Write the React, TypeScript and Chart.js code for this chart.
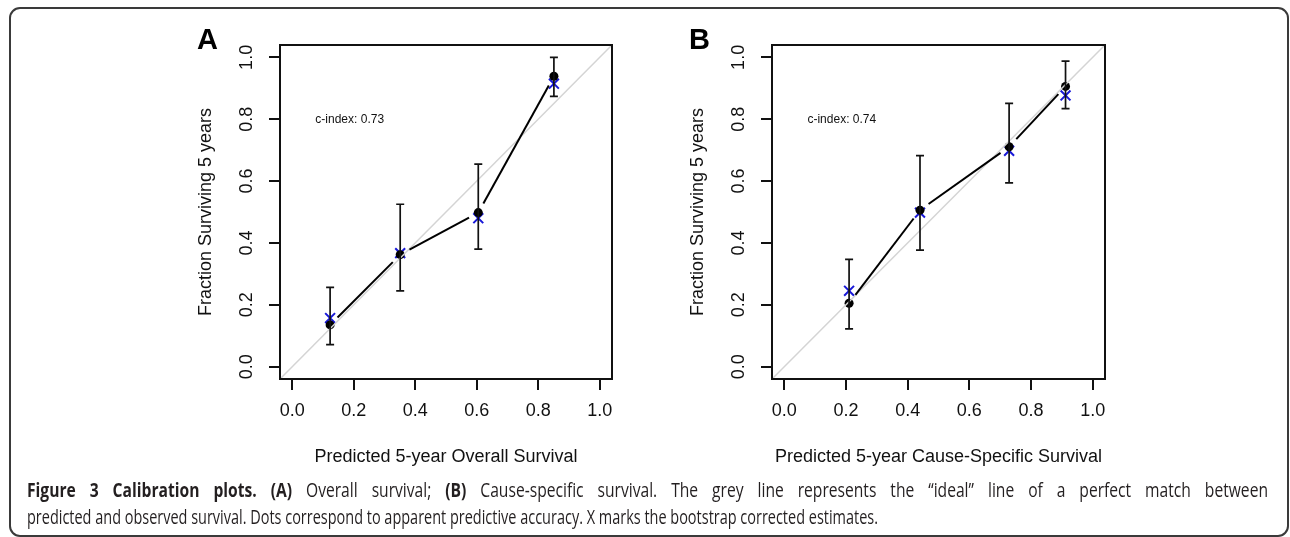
import React, { useEffect, useLayoutEffect, useRef } from "react";
import { Chart, registerables } from "chart.js";

Chart.register(...registerables);

// ---------- data ----------
const X_TICKS = [0, 0.2, 0.4, 0.6, 0.8, 1.0];
const Y_TICKS = [0, 0.2, 0.4, 0.6, 0.8, 1.0];
const AXIS_RANGE = [-0.04, 1.04];

// Panel A: overall survival
const A_PRED = [0.123, 0.351, 0.605, 0.851];
const A_OBS = [0.135, 0.362, 0.498, 0.939];
const A_CORR = [0.157, 0.367, 0.48, 0.915];
const A_LO = [0.071, 0.245, 0.38, 0.874];
const A_HI = [0.256, 0.525, 0.655, 1.0];

// Panel B: cause-specific survival
const B_PRED = [0.21, 0.44, 0.729, 0.912];
const B_OBS = [0.205, 0.506, 0.711, 0.906];
const B_CORR = [0.245, 0.498, 0.698, 0.877];
const B_LO = [0.122, 0.377, 0.594, 0.834];
const B_HI = [0.347, 0.682, 0.851, 0.988];

const Y_TITLE = "Fraction Surviving 5 years";
const A_X_TITLE = "Predicted 5-year Overall Survival";
const B_X_TITLE = "Predicted 5-year Cause-Specific Survival";
const A_CINDEX = "c-index: 0.73";
const B_CINDEX = "c-index: 0.74";
const CINDEX_POS = [0.075, 0.8];

const FONT = "'Liberation Sans', Arial, Helvetica, sans-serif";
const INK = "#111111";
const GAP = 10.5;
const X_AXIS_H = 101;

interface PanelCfg {
  letter: string;
  xTitle: string;
  cIndex: string;
  pred: number[];
  obs: number[];
  corr: number[];
  lo: number[];
  hi: number[];
  padRight: number;
}

function buildChart(canvas: HTMLCanvasElement, cfg: PanelCfg) {
  const plugin = {
    id: "panel" + cfg.letter,
    afterDatasetDraw(chart: any, args: any) {
      if (args.index !== 0) return;
      const { ctx } = chart;
      const x = chart.scales.x;
      const y = chart.scales.y;
      ctx.save();
      // error bars
      ctx.strokeStyle = INK;
      ctx.lineWidth = 1.7;
      cfg.pred.forEach((p, i) => {
        const px = x.getPixelForValue(p);
        const lo = y.getPixelForValue(cfg.lo[i]);
        const hi = y.getPixelForValue(cfg.hi[i]);
        ctx.beginPath();
        ctx.moveTo(px, lo);
        ctx.lineTo(px, hi);
        ctx.moveTo(px - 4, lo);
        ctx.lineTo(px + 4, lo);
        ctx.moveTo(px - 4, hi);
        ctx.lineTo(px + 4, hi);
        ctx.stroke();
      });
      // connecting line (type "b": gaps around points)
      ctx.strokeStyle = "#000";
      ctx.lineWidth = 2;
      for (let i = 0; i < cfg.pred.length - 1; i++) {
        const x1 = x.getPixelForValue(cfg.pred[i]);
        const y1 = y.getPixelForValue(cfg.obs[i]);
        const x2 = x.getPixelForValue(cfg.pred[i + 1]);
        const y2 = y.getPixelForValue(cfg.obs[i + 1]);
        const dx = x2 - x1;
        const dy = y2 - y1;
        const d = Math.hypot(dx, dy);
        if (d <= 2 * GAP) continue;
        const ux = dx / d;
        const uy = dy / d;
        ctx.beginPath();
        ctx.moveTo(x1 + ux * GAP, y1 + uy * GAP);
        ctx.lineTo(x2 - ux * GAP, y2 - uy * GAP);
        ctx.stroke();
      }
      ctx.restore();
    },
    afterDatasetsDraw(chart: any) {
      const { ctx, chartArea } = chart;
      ctx.save();
      ctx.strokeStyle = INK;
      ctx.lineWidth = 2;
      ctx.strokeRect(
        chartArea.left,
        chartArea.top,
        chartArea.right - chartArea.left,
        chartArea.bottom - chartArea.top
      );
      const x = chart.scales.x;
      const y = chart.scales.y;
      ctx.fillStyle = INK;
      ctx.font = `12px ${FONT}`;
      ctx.textAlign = "left";
      ctx.textBaseline = "middle";
      ctx.fillText(
        cfg.cIndex,
        x.getPixelForValue(CINDEX_POS[0]),
        y.getPixelForValue(CINDEX_POS[1])
      );
      ctx.restore();
    },
    afterDraw(chart: any) {
      const { ctx, chartArea } = chart;
      const y = chart.scales.y;
      ctx.save();
      ctx.fillStyle = INK;
      ctx.font = `18px ${FONT}`;
      ctx.textAlign = "center";
      ctx.textBaseline = "middle";
      Y_TICKS.forEach((v) => {
        const py = y.getPixelForValue(v);
        ctx.save();
        ctx.translate(chartArea.left - 32.5, py);
        ctx.rotate(-Math.PI / 2);
        ctx.fillText(v.toFixed(1), 0, 0);
        ctx.restore();
      });
      // y title
      ctx.save();
      ctx.translate(chartArea.left - 74, (chartArea.top + chartArea.bottom) / 2);
      ctx.rotate(-Math.PI / 2);
      ctx.fillText(Y_TITLE, 0, 0);
      ctx.restore();
      // x title
      ctx.fillText(cfg.xTitle, (chartArea.left + chartArea.right) / 2, 457);
      // panel letter
      ctx.font = `bold 29px ${FONT}`;
      ctx.textAlign = "left";
      ctx.textBaseline = "alphabetic";
      ctx.fillStyle = "#000";
      ctx.fillText(cfg.letter, 17, 48.5);
      ctx.restore();
    },
  };

  const gridCommon = {
    display: true,
    drawOnChartArea: false,
    drawTicks: true,
    tickLength: 11,
    color: INK,
    lineWidth: 2,
  };

  return new Chart(canvas, {
    type: "scatter",
    data: {
      datasets: [
        {
          label: "ideal",
          data: AXIS_RANGE.map((v) => ({ x: v, y: v })),
          showLine: true,
          borderColor: "#d4d4d4",
          borderWidth: 1.5,
          pointRadius: 0,
        },
        {
          label: "apparent",
          data: cfg.pred.map((p, i) => ({ x: p, y: cfg.obs[i] })),
          showLine: false,
          pointRadius: 4.5,
          pointBackgroundColor: "#000",
          pointBorderColor: "#000",
          pointBorderWidth: 0,
        },
        {
          label: "bias-corrected",
          data: cfg.pred.map((p, i) => ({ x: p, y: cfg.corr[i] })),
          showLine: false,
          pointStyle: "crossRot",
          pointRadius: 7,
          pointBorderColor: "#1818d8",
          pointBorderWidth: 2,
        },
      ],
    },
    options: {
      responsive: false,
      animation: false,
      devicePixelRatio: 1,
      events: [],
      layout: { padding: { left: 100, right: cfg.padRight, top: 45, bottom: 0 } },
      plugins: { legend: { display: false }, tooltip: { enabled: false }, title: { display: false } },
      scales: {
        x: {
          type: "linear",
          min: AXIS_RANGE[0],
          max: AXIS_RANGE[1],
          afterBuildTicks: (s: any) => {
            s.ticks = X_TICKS.map((v) => ({ value: v }));
          },
          afterFit: (s: any) => {
            s.height = X_AXIS_H;
          },
          ticks: {
            autoSkip: false,
            maxRotation: 0,
            minRotation: 0,
            padding: 10,
            color: INK,
            font: { family: FONT, size: 18 },
            callback: (v: any) => Number(v).toFixed(1),
          },
          grid: gridCommon,
          border: { display: false },
        },
        y: {
          type: "linear",
          min: AXIS_RANGE[0],
          max: AXIS_RANGE[1],
          afterBuildTicks: (s: any) => {
            s.ticks = Y_TICKS.map((v) => ({ value: v }));
          },
          afterFit: (s: any) => {
            s.width = 0;
          },
          ticks: { display: false },
          grid: gridCommon,
          border: { display: false },
        },
      },
    } as any,
    plugins: [plugin],
  });
}

const CAPTION_1 = [
  { t: "Figure 3 Calibration plots.", b: true },
  { t: " ", b: false },
  { t: "(A)", b: true },
  { t: " Overall survival; ", b: false },
  { t: "(B)", b: true },
  {
    t: " Cause-specific survival. The grey line represents the \u201cideal\u201d line of a perfect match between",
    b: false,
  },
];
const CAPTION_2 =
  "predicted and observed survival. Dots correspond to apparent predictive accuracy. X marks the bootstrap corrected estimates.";
// line 1 is justified to the full width; line 2 is the natural last line
const CAPTION_WIDTHS = [1241, 851];

export default function App() {
  const refA = useRef<HTMLCanvasElement>(null);
  const refB = useRef<HTMLCanvasElement>(null);
  const cap1 = useRef<HTMLSpanElement>(null);
  const cap2 = useRef<HTMLSpanElement>(null);

  useEffect(() => {
    const a = buildChart(refA.current!, {
      letter: "A",
      xTitle: A_X_TITLE,
      cIndex: A_CINDEX,
      pred: A_PRED,
      obs: A_OBS,
      corr: A_CORR,
      lo: A_LO,
      hi: A_HI,
      padRight: 18,
    });
    const b = buildChart(refB.current!, {
      letter: "B",
      xTitle: B_X_TITLE,
      cIndex: B_CINDEX,
      pred: B_PRED,
      obs: B_OBS,
      corr: B_CORR,
      lo: B_LO,
      hi: B_HI,
      padRight: 17,
    });
    return () => {
      a.destroy();
      b.destroy();
    };
  }, []);

  useLayoutEffect(() => {
    const e1 = cap1.current;
    const e2 = cap2.current;
    if (!e1 || !e2) return;
    e1.style.transform = "none";
    e2.style.transform = "none";
    e1.style.wordSpacing = "0px";
    const w2 = e2.getBoundingClientRect().width;
    if (w2 <= 0) return;
    const s = CAPTION_WIDTHS[1] / w2;
    e2.style.transform = `scaleX(${s})`;
    const s1 = s * 1.08;
    const w1 = e1.getBoundingClientRect().width;
    const spaces = (e1.textContent || "").split(" ").length - 1;
    const extra = Math.max(0, (CAPTION_WIDTHS[0] / s1 - w1) / Math.max(1, spaces));
    e1.style.wordSpacing = `${extra}px`;
    const w1b = e1.getBoundingClientRect().width;
    e1.style.transform = `scaleX(${CAPTION_WIDTHS[0] / w1b})`;
  }, []);

  const capStyle: React.CSSProperties = {
    position: "absolute",
    left: 27,
    whiteSpace: "nowrap",
    fontFamily: "'Open Sans', 'Noto Sans', sans-serif",
    fontSize: 19.5,
    lineHeight: "27px",
    color: "#231f20",
  };
  const spanStyle: React.CSSProperties = {
    display: "inline-block",
    transformOrigin: "left center",
  };

  return (
    <div
      style={{
        position: "absolute",
        left: 0,
        top: 0,
        width: 1290,
        height: 537,
        overflow: "hidden",
        background: "#fff",
      }}
    >
      <div
        style={{
          position: "absolute",
          left: 9,
          top: 7,
          width: 1280,
          height: 530,
          border: "2px solid #3a3a3a",
          borderRadius: 11,
          boxSizing: "border-box",
        }}
      />
      <canvas
        ref={refA}
        width={450}
        height={480}
        style={{ position: "absolute", left: 180, top: 0, width: 450, height: 480 }}
      />
      <canvas
        ref={refB}
        width={450}
        height={480}
        style={{ position: "absolute", left: 672, top: 0, width: 450, height: 480 }}
      />
      <div style={{ ...capStyle, top: 476 }}>
        <span ref={cap1} style={spanStyle}>
          {CAPTION_1.map((s, i) =>
            s.b ? <b key={i}>{s.t}</b> : <span key={i}>{s.t}</span>
          )}
        </span>
      </div>
      <div style={{ ...capStyle, top: 503 }}>
        <span ref={cap2} style={spanStyle}>
          {CAPTION_2}
        </span>
      </div>
    </div>
  );
}
